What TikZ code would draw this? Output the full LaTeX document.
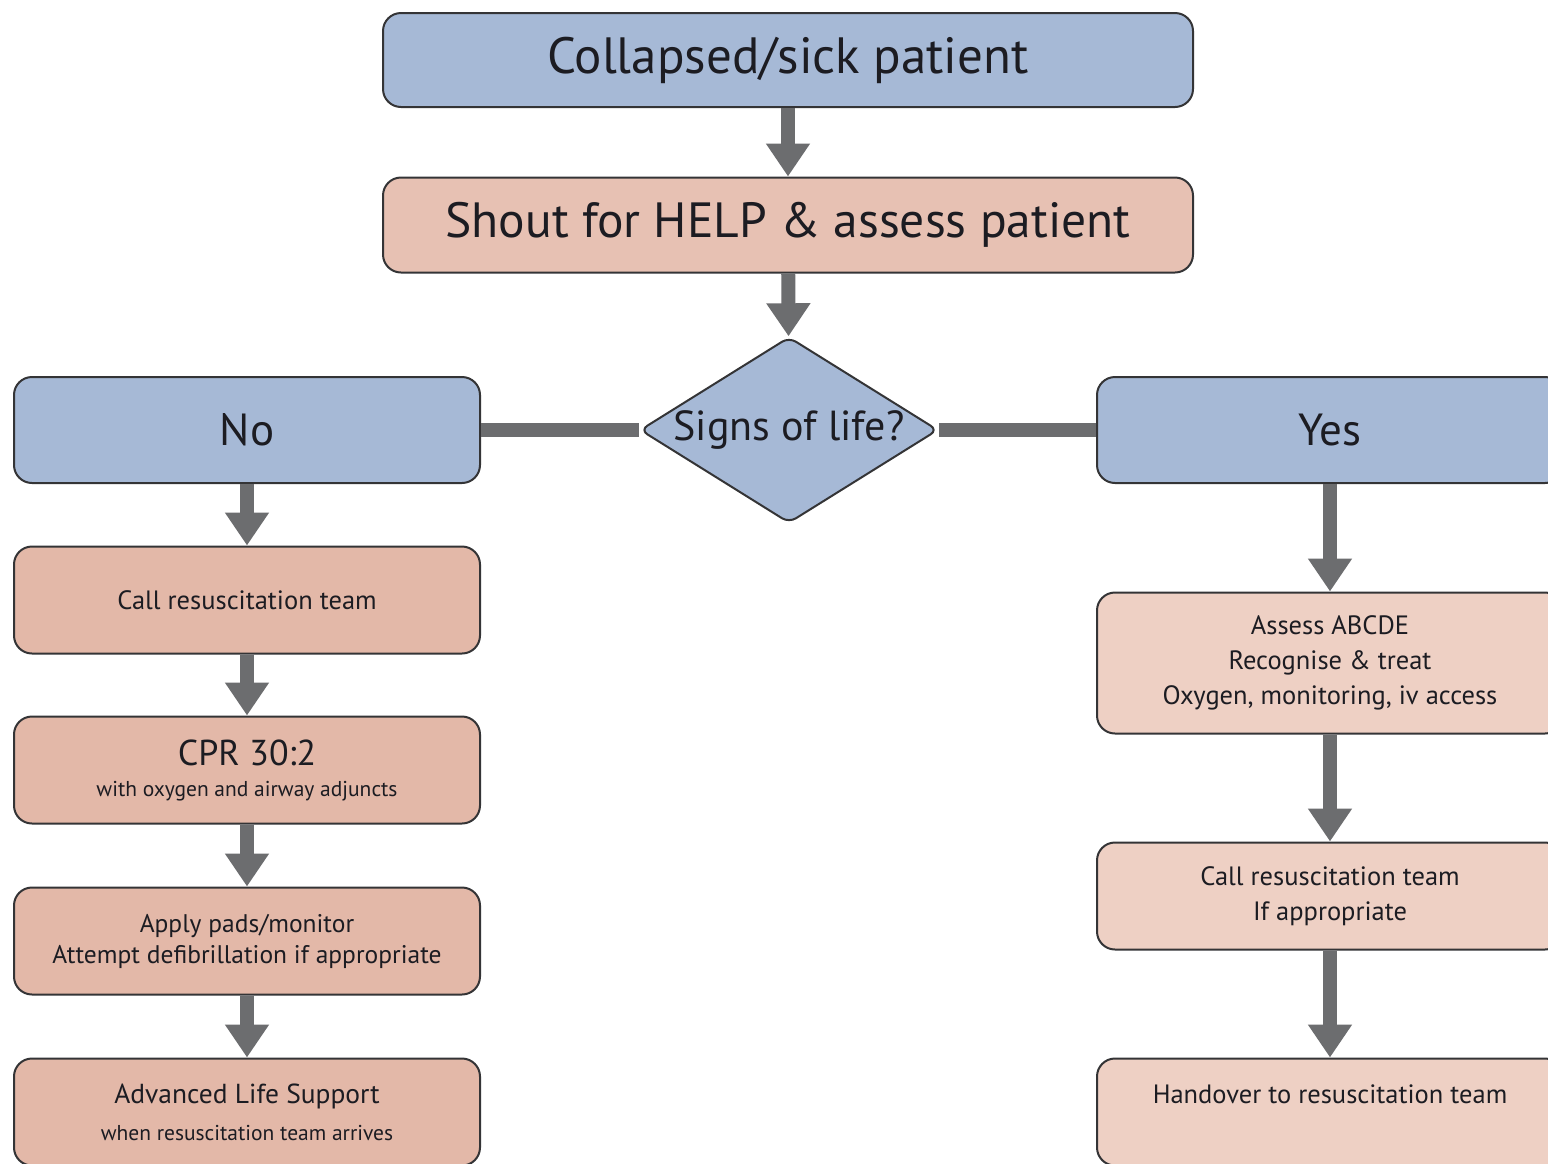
\documentclass[tikz,border=0pt]{standalone}
\usepackage{fontspec}
\setmainfont{PT Sans}
\usetikzlibrary{positioning,arrows.meta,shapes.geometric}

\definecolor{boxblue}{RGB}{166,185,214}
\definecolor{pinktop}{RGB}{231,193,179}
\definecolor{pinkleft}{RGB}{227,184,168}
\definecolor{pinkright}{RGB}{238,208,196}
\definecolor{flowgray}{RGB}{108,109,111}
\definecolor{boxline}{RGB}{52,52,54}
\definecolor{textdark}{RGB}{28,28,34}

\begin{document}
\begin{tikzpicture}[x=1pt,y=-1pt,line join=bevel,
  box/.style={draw=boxline,line width=2pt,rounded corners=18pt,minimum width=466pt,minimum height=107pt,align=center,text=textdark,inner sep=0pt},
  flow/.style={draw=flowgray,line width=14pt,-{Triangle[width=42pt,length=33pt]}},
  link/.style={draw=flowgray,line width=14pt},
  mid/.style={font=\fontsize{45}{50}\selectfont},
  small/.style={font=\fontsize{26.5}{35}\selectfont}]
%%
  \useasboundingbox (0,0) rectangle (1548,1163);
  \clip (0,0) rectangle (1548,1163);
  \fill[white] (0,0) rectangle (1548,1163);

  \node (node_collapsed) at (788,60) [box,fill=boxblue,minimum width=810pt,minimum height=94pt,font=\fontsize{51}{56}\selectfont] {Collapsed/sick patient};

  \node (node_help) at (788,225) [box,fill=pinktop,minimum width=810pt,minimum height=95pt,font=\fontsize{49.5}{55}\selectfont] {Shout for HELP \& assess patient};

  \node (node_signs) at (789,430) [diamond,draw=boxline,line width=2pt,rounded corners=8pt,fill=boxblue,aspect=1.6,inner sep=0pt,minimum width=298pt,minimum height=186pt,text=textdark,font=\fontsize{42}{46}\selectfont] {Signs of life?};

  \node (node_no) at (247,430) [box,fill=boxblue,minimum height=106pt,mid] {No};

  \node (node_yes) at (1330,430) [box,fill=boxblue,minimum height=106pt,mid] {Yes};

  % no signs of life
  \node (node_call_no) at (247,600) [box,fill=pinkleft,small] {Call resuscitation team};

  \node (node_cpr) at (247,770) [box,fill=pinkleft,font=\fontsize{21.5}{31}\selectfont] {{\fontsize{36}{40}\selectfont CPR 30:2}\\with oxygen and airway adjuncts};

  \node (node_pads) at (247,941) [box,fill=pinkleft,font=\fontsize{25.5}{31}\selectfont] {Apply pads/monitor\\Attempt defibrillation if appropriate};

  \node (node_als) at (247,1112) [box,fill=pinkleft,font=\fontsize{21.5}{37}\selectfont] {{\fontsize{27.5}{32}\selectfont Advanced Life Support}\\when resuscitation team arrives};

  % signs of life
  \node (node_abcde) at (1330,663) [box,fill=pinkright,minimum height=141pt,small] {Assess ABCDE\\Recognise \& treat\\Oxygen, monitoring, iv access};

  \node (node_call_yes) at (1330,896) [box,fill=pinkright,small] {Call resuscitation team\\If appropriate};

  \node (node_handover) at (1330,1112) [box,fill=pinkright,small] {Handover to resuscitation team\\\mbox{}};

  \draw [flow] (node_collapsed) -- (node_help);
  \draw [flow] (node_help) -- (node_signs);
  \draw [link] (node_no) -- (node_signs);
  \draw [link] (node_signs) -- (node_yes);
  \draw [flow] (node_no) -- (node_call_no);
  \draw [flow] (node_call_no) -- (node_cpr);
  \draw [flow] (node_cpr) -- (node_pads);
  \draw [flow] (node_pads) -- (node_als);
  \draw [flow] (node_yes) -- (node_abcde);
  \draw [flow] (node_abcde) -- (node_call_yes);
  \draw [flow] (node_call_yes) -- (node_handover);
%
\end{tikzpicture}
\end{document}
